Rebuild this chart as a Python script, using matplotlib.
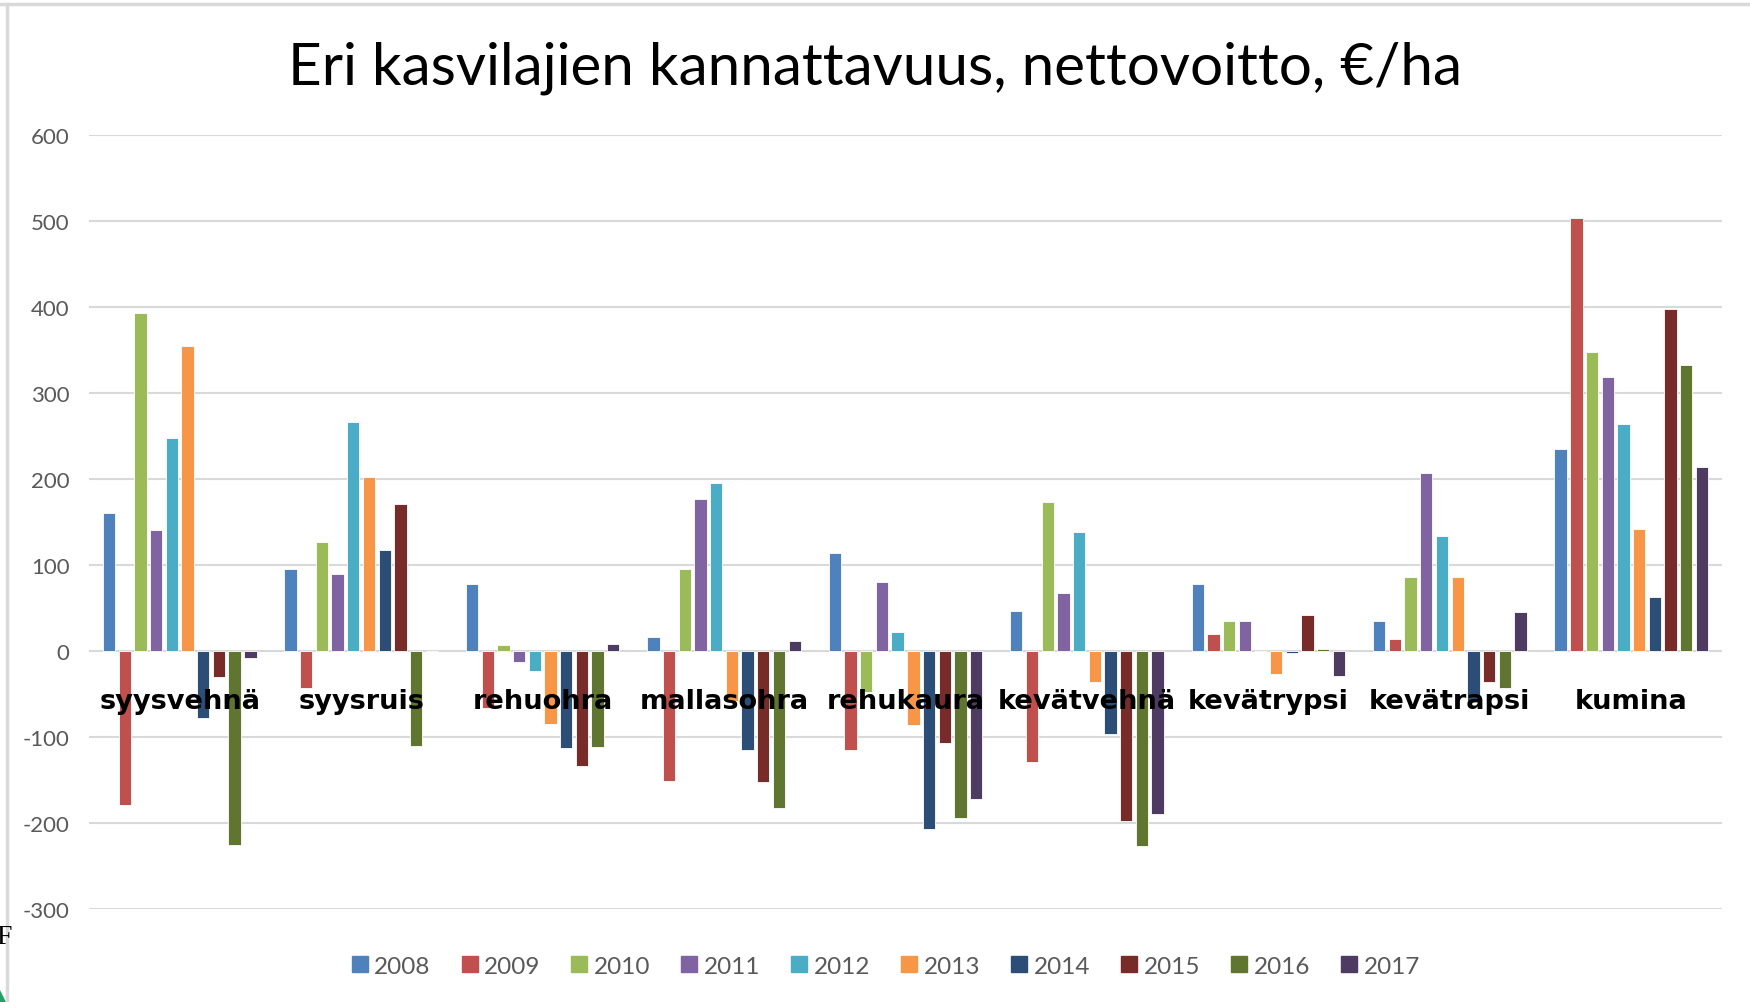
import matplotlib
matplotlib.use("Agg")
import matplotlib.pyplot as plt
import numpy as np
from matplotlib.patches import Polygon
from matplotlib.lines import Line2D

crops = ['syysvehnä', 'syysruis', 'rehuohra', 'mallasohra', 'rehukaura',
         'kevätvehnä', 'kevätrypsi', 'kevätrapsi', 'kumina']
years = ['2008', '2009', '2010', '2011', '2012', '2013', '2014', '2015', '2016', '2017']

v2008 = [160, 95, 77, 16, 114, 46, 77, 34, 235]
v2009 = [-179, -43, -67, -152, -115, -129, 19, 13, 504]
v2010 = [393, 127, 7, 95, -48, 173, 35, 86, 347]
v2011 = [140, 89, -13, 176, 80, 67, 35, 207, 318]
v2012 = [247, 266, -24, 195, 22, 138, 0, 133, 264]
v2013 = [354, 202, -85, -58, -86, -37, -27, 86, 142]
v2014 = [-78, 117, -113, -116, -207, -97, -3, -58, 63]
v2015 = [-31, 171, -134, -153, -108, -198, 41, -36, 398]
v2016 = [-226, -111, -112, -183, -195, -227, 2, -43, 332]
v2017 = [-8, 0, 8, 11, -173, -190, -30, 45, 214]
series = [v2008, v2009, v2010, v2011, v2012, v2013, v2014, v2015, v2016, v2017]

colors = ['#4F81BD', '#C0504D', '#9BBB59', '#8064A2', '#4BACC6',
          '#F79646', '#2C4D75', '#772C2A', '#5F7530', '#4D3B62']

yticks = [-300, -200, -100, 0, 100, 200, 300, 400, 500, 600]

FONT = ['Lato', 'DejaVu Sans']
plt.rcParams['font.family'] = FONT

fig = plt.figure(figsize=(17.5, 10.03), dpi=100)
ax = fig.add_axes([89/1750, 1-909.5/1003, (1722-89)/1750, (909.5-136)/1003])

x = np.arange(len(crops))
pitch = 0.0865
width = 0.068
n = len(years)
for i, (vals, c, yr) in enumerate(zip(series, colors, years)):
    off = (i - (n - 1) / 2) * pitch
    ax.bar(x + off, vals, width=width, color=c, edgecolor='white',
           linewidth=0.6, label=yr, zorder=3)

ax.set_xlim(-0.5, len(crops) - 0.5)
ax.set_ylim(-300, 600)
ax.set_yticks(yticks)
ax.set_yticklabels([str(t) for t in yticks])
ax.tick_params(axis='y', length=0, pad=14, labelsize=16, labelcolor='#595959')
ax.set_xticks([])
ax.grid(axis='y', color='#D9D9D9', linewidth=1.5, zorder=0)
for s in ax.spines.values():
    s.set_visible(False)

# category labels drawn across the bars
for xi, name in zip(x, crops):
    ax.text(xi, -58, name, ha='center', va='center', fontsize=19.6,
            fontweight='bold', color='black', family='DejaVu Sans', zorder=5)

fig.suptitle('Eri kasvilajien kannattavuus, nettovoitto, €/ha', x=0.5,
             y=1-68/1003, va='center', fontsize=42, color='black')

handles = [Line2D([0], [0], marker='s', linestyle='none', markersize=11,
                  markerfacecolor=c, markeredgecolor=c) for c in colors]
fig.legend(handles, years, loc='center', bbox_to_anchor=(885/1750, 1-967/1003),
           ncol=10, frameon=False, fontsize=17.5, handletextpad=0.2,
           columnspacing=1.2, labelcolor='#595959', handlelength=0.8)

# chart frame borders (screenshot edges)
fig.add_artist(Line2D([0, 1], [1-5/1003, 1-5/1003], color='#D9D9D9', linewidth=2.5,
                      transform=fig.transFigure))
fig.add_artist(Line2D([7/1750, 7/1750], [0, 1-5/1003], color='#D9D9D9', linewidth=2.5,
                      transform=fig.transFigure))
fig.text(-4/1750, 1-937/1003, 'F', fontsize=20, color='black', va='center',
         family='Liberation Serif')
fig.add_artist(Polygon([[0, 0], [6/1750, 0], [0, 12/1003]], closed=True,
                       facecolor='#21A366', edgecolor='none', transform=fig.transFigure))

fig.savefig('out.png', dpi=100, facecolor='white')
